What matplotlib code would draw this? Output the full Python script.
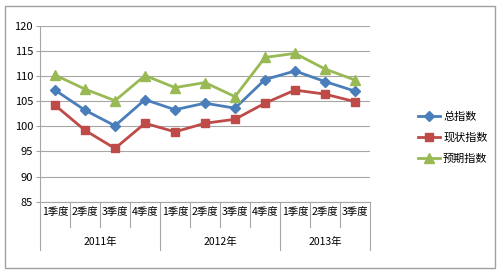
import numpy as np
import matplotlib
matplotlib.use('Agg')
import matplotlib.pyplot as plt
from matplotlib.patches import Rectangle

plt.rcParams['font.family'] = ['Noto Sans CJK SC', 'DejaVu Sans']

quarters = ['1季度', '2季度', '3季度', '4季度', '1季度', '2季度', '3季度', '4季度', '1季度', '2季度', '3季度']
years = ['2011年', '2012年', '2013年']
year_span = [(0, 3), (4, 7), (8, 10)]

total = [107.2, 103.2, 100.1, 105.3, 103.3, 104.6, 103.6, 109.3, 111.0, 108.9, 107.0]
current = [104.2, 99.2, 95.6, 100.6, 98.9, 100.6, 101.4, 104.6, 107.2, 106.4, 104.9]
expected = [110.2, 107.4, 105.1, 110.1, 107.7, 108.7, 105.9, 113.7, 114.5, 111.4, 109.2]

series = [('总指数', total, '#4A7EBB', 'D', 5),
          ('现状指数', current, '#BE4B48', 's', 6),
          ('预期指数', expected, '#98B954', '^', 6.5)]

fig = plt.figure(figsize=(5, 2.71), dpi=100)
fig.patches.append(Rectangle((0.01, 0.011), 0.98, 0.968, transform=fig.transFigure,
                             fill=False, edgecolor='#A0A0A0', lw=1.0))

ax = fig.add_axes([0.08, 0.2557, 0.66, 0.6493])
x = np.arange(len(quarters))
for name, vals, col, mk, ms in series:
    ax.plot(x, vals, color=col, marker=mk, markersize=ms, lw=2.0, label=name)

ax.set_ylim(85, 120)
ax.set_yticks(np.arange(85, 121, 5))
ax.set_xlim(-0.5, len(quarters) - 0.5)
ax.grid(axis='y', color='#A6A6A6', lw=0.8)
ax.set_axisbelow(True)
for s in ['top', 'right']:
    ax.spines[s].set_visible(False)
ax.spines['left'].set_color('#A6A6A6')
ax.spines['bottom'].set_color('#A6A6A6')
ax.tick_params(axis='y', length=3, color='#A6A6A6', labelsize=8, pad=2)
ax.set_xticks(x)
ax.set_xticklabels(quarters)
ax.tick_params(axis='x', length=0, labelsize=7.5, pad=4)

# category separators
tr = ax.get_xaxis_transform()
starts = [a for a, b in year_span]
for b in np.arange(-0.5, len(quarters), 1.0):
    edge = (b + 0.5) in starts or b == len(quarters) - 0.5
    ax.plot([b, b], [0, -0.274 if edge else -0.142], color='#A6A6A6', lw=0.8,
            transform=tr, clip_on=False)
for name, (a, b) in zip(years, year_span):
    ax.text((a + b) / 2, -0.229, name, transform=tr, ha='center', va='center', fontsize=7.5)

fig.legend(loc='upper left', bbox_to_anchor=(0.815, 0.625), frameon=False,
           fontsize=8, handlelength=2.0, labelspacing=0.95, handletextpad=0.3)

fig.savefig('out.png', dpi=100)
